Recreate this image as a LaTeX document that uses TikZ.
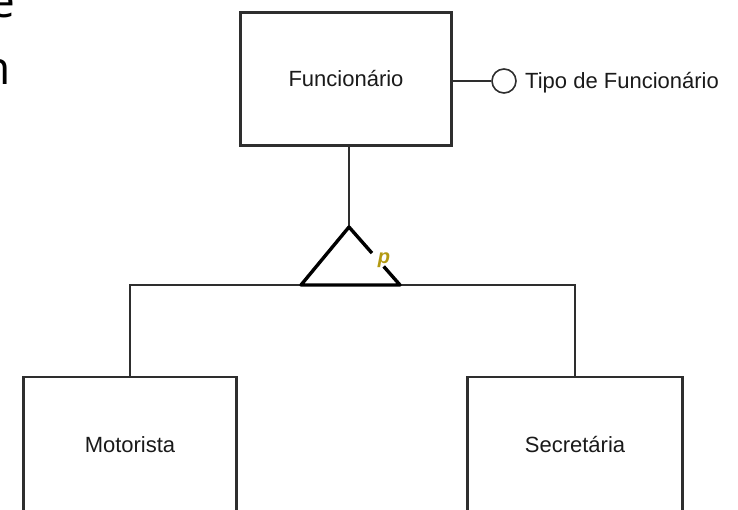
\documentclass[tikz,border=0pt]{standalone}
\usepackage{fontspec}
\setmainfont{Liberation Sans}
\newfontfamily\fragfont{Open Sans}
\usetikzlibrary{shadows,calc}
\definecolor{edgegray}{HTML}{2E2E2E}
\definecolor{txtcol}{HTML}{1A1A1A}
\definecolor{pcol}{HTML}{B39A12}
\begin{document}
\begin{tikzpicture}[x=1pt,y=-1pt,
  entity/.style={draw=edgegray, line width=2.4pt, fill=white, inner sep=0pt,
    drop shadow={shadow xshift=1.5pt, shadow yshift=-1.5pt, opacity=0.45},
    font=\fontsize{22}{26}\selectfont, text=txtcol, text height=15.8pt, text depth=0pt},
  conn/.style={draw=edgegray, line width=1.7pt},
  tri/.style={draw=black, line width=3.4pt, line join=round},
  attrcircle/.style={circle, draw=edgegray, line width=1.6pt, fill=white, minimum size=24pt, inner sep=0pt},
  attrtext/.style={inner sep=0pt, font=\fontsize{22}{26}\selectfont, text=txtcol, text height=15.8pt, text depth=0pt},
  frag/.style={inner sep=0pt, font=\fragfont\fontsize{46}{50}\selectfont, text=black}
]
\useasboundingbox (0,0) rectangle (738,510);
\clip (0,0) rectangle (738,510);

% cropped text fragments at the left edge
\node[frag, anchor=base east] (fragE) at (15.5,18) {e};
\node[frag, anchor=base east] (fragN) at (11,85) {n};

% entities
\node[entity, minimum width=211pt, minimum height=133pt] (func) at (346,79) {Funcionário};
\node[entity, minimum width=213pt, minimum height=136pt] (mot) at (130,445) {Motorista};
\node[entity, minimum width=215pt, minimum height=136pt] (sec) at (575,445) {Secretária};

% attribute
\node[attrcircle] (attr) at (504,81) {};
\node[attrtext, anchor=west] (attrtxt) at (525,81) {Tipo de Funcionário};
\draw[conn] (attr.west -| func.east) -- (attr.west);

% specialization triangle
\coordinate (apex) at (349,227);
\coordinate (bl) at (301,285);
\coordinate (br) at (400,285);
\draw[conn] (apex |- func.south) -- (apex);
\draw[conn] (mot.north) |- (apex |- bl) -| (sec.north);
\draw[tri] ($(apex)!0.45!(br)$) -- (apex) -- (bl) -- (br) -- ($(apex)!0.68!(br)$);
\node[inner sep=0pt, font=\bfseries\itshape\fontsize{20}{20}\selectfont, text=pcol] (plabel) at (384,260) {p};
\end{tikzpicture}
\end{document}
